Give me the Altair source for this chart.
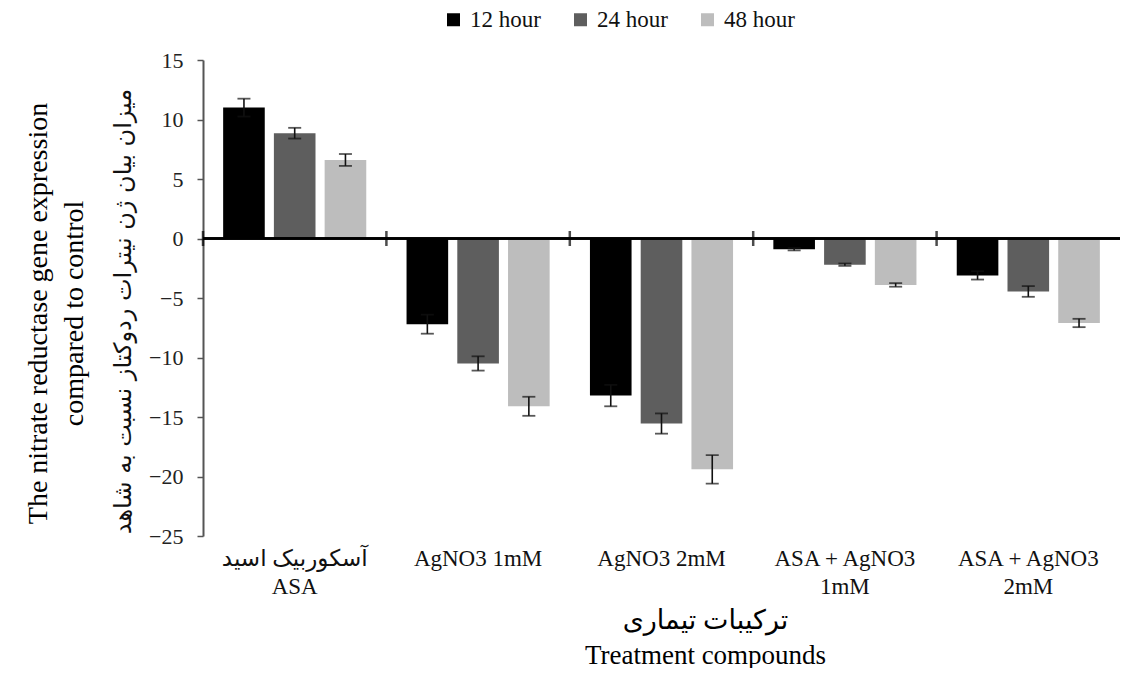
import altair as alt
import pandas as pd

categories = ["آسکوربیک اسید|ASA", "AgNO3 1mM", "AgNO3 2mM", "ASA + AgNO3|1mM", "ASA + AgNO3|2mM"]
series = ["12 hour", "24 hour", "48 hour"]
colors = ["#000000", "#5e5e5e", "#bdbdbd"]

h12 = [11.0, -7.2, -13.2, -0.9, -3.1]
h24 = [8.85, -10.5, -15.55, -2.2, -4.45]
h48 = [6.6, -14.1, -19.4, -3.9, -7.1]
e12 = [0.75, 0.8, 0.9, 0.1, 0.35]
e24 = [0.45, 0.6, 0.85, 0.1, 0.45]
e48 = [0.5, 0.8, 1.2, 0.15, 0.35]

y_title_en = ["The nitrate reductase gene expression", "compared to control"]
y_title_fa = "میزان بیان ژن نیترات ردوکتاز نسبت به شاهد"
x_title = ["ترکیبات تیماری", "Treatment compounds"]
y_ticks = [-25, -20, -15, -10, -5, 0, 5, 10, 15]

rows = []
for s, vals, errs in zip(series, [h12, h24, h48], [e12, e24, e48]):
    for c, v, e in zip(categories, vals, errs):
        rows.append({"cat": c, "series": s, "value": v, "lo": v - e, "hi": v + e})
df = pd.DataFrame(rows)
bdf = pd.DataFrame({"cat": categories})

FONT = "Liberation Serif, DejaVu Sans, serif"
FA_FONT = "DejaVu Sans"

xscale = alt.Scale(domain=categories, paddingInner=0, paddingOuter=0)
xoff_scale = alt.Scale(domain=series, paddingInner=0.18, paddingOuter=0.397)
yscale = alt.Scale(domain=[-25, 15], nice=False, zero=False)

x_enc = alt.X("cat:N", scale=xscale, sort=categories,
              axis=alt.Axis(title=x_title, labelAngle=0, domain=False, ticks=False,
                            labelFont=FONT, labelFontSize=23, labelColor="#111",
                            labelPadding=11, labelLineHeight=28,
                            labelExpr="split(datum.label, '|')",
                            titleFont=FONT, titleFontSize=27, titleFontWeight="normal",
                            titleColor="#000", titleLineHeight=35, titlePadding=9,
                            titleX=502))
y_enc = alt.Y("value:Q", scale=yscale,
              axis=alt.Axis(title=y_title_en, values=y_ticks, grid=False,
                            domainColor="#555", domainWidth=2, tickColor="#555",
                            tickWidth=1.5, tickSize=6, labelPadding=14,
                            labelFont=FONT, labelFontSize=22, labelColor="#222",
                            titleFont=FONT, titleFontSize=28, titleFontWeight="normal",
                            titleColor="#000", titleLineHeight=36, titlePadding=60,
                            titleY=253))

base = alt.Chart(df)
off = alt.XOffset("series:N", scale=xoff_scale, sort=series)
xplain = alt.X("cat:N", scale=xscale, sort=categories)

bars = base.mark_bar().encode(
    x=x_enc,
    xOffset=off,
    y=y_enc,
    y2=alt.Y2(datum=0),
    color=alt.Color("series:N", sort=series,
                    scale=alt.Scale(domain=series, range=colors),
                    legend=alt.Legend(title=None, orient="none", legendX=239, legendY=-52,
                                      direction="horizontal", symbolType="square",
                                      symbolSize=169, symbolStrokeWidth=0,
                                      labelFont=FONT, labelFontSize=23, labelColor="#111",
                                      labelOffset=5, columnPadding=28)),
)

err_line = base.mark_rule(color="#111", strokeWidth=1.6).encode(
    x=xplain, xOffset=off,
    y=alt.Y("lo:Q", scale=yscale,
            axis=alt.Axis(orient="left", title=y_title_fa, labels=False, ticks=False,
                          domain=False, grid=False, titleFont=FA_FONT, titleFontSize=24,
                          titleFontWeight="normal", titleColor="#111", titlePadding=68,
                          titleY=251)),
    y2="hi:Q",
)
cap_lo = base.mark_tick(color="#111", size=13, thickness=1.8).encode(
    x=xplain, xOffset=off, y=alt.Y("lo:Q", scale=yscale, axis=None),
)
cap_hi = base.mark_tick(color="#111", size=13, thickness=1.8).encode(
    x=xplain, xOffset=off, y=alt.Y("hi:Q", scale=yscale, axis=None),
)

zero = alt.Chart(bdf).mark_rule(color="#000", strokeWidth=2).encode(
    y=alt.Y(datum=0, scale=yscale, axis=None),
)
seps = alt.Chart(bdf).mark_tick(color="#000", orient="vertical", size=15, thickness=2.5).encode(
    x=alt.X("cat:N", scale=xscale, sort=categories, bandPosition=0),
    y=alt.Y(datum=0, scale=yscale, axis=None),
)

chart = alt.layer(bars, zero, err_line, cap_lo, cap_hi, seps).resolve_axis(
    y="independent"
).properties(
    width=917, height=476,
    padding={"left": 16, "top": 0, "right": 0, "bottom": 0},
).configure(background="white").configure_view(stroke=None)

chart.save("out.html", embed_options={"renderer": "svg", "actions": False})
